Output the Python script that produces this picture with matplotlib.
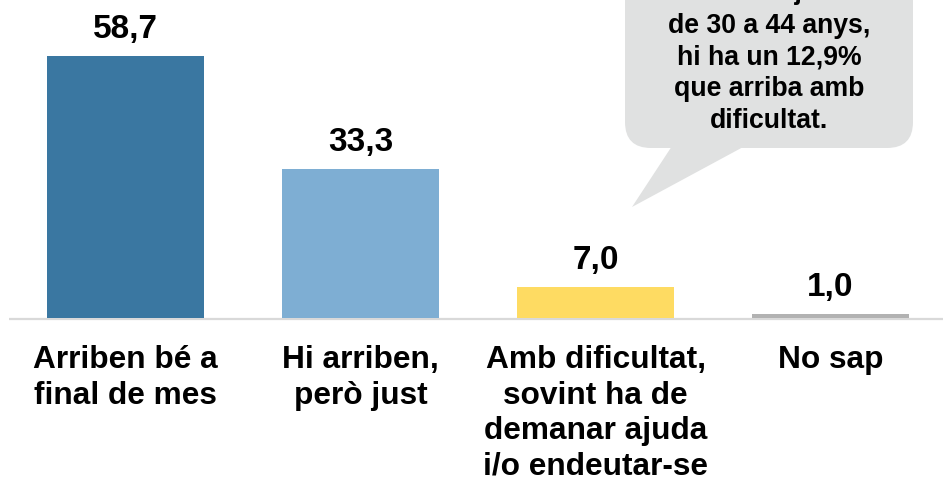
import matplotlib
matplotlib.use("Agg")
import matplotlib.pyplot as plt
from matplotlib.patches import FancyBboxPatch, Polygon

categories = ["Arriben bé a\nfinal de mes", "Hi arriben,\nperò just",
              "Amb dificultat,\nsovint ha de\ndemanar ajuda\ni/o endeutar-se", "No sap"]
values = [58.7, 33.3, 7.0, 1.0]
value_labels = ["58,7", "33,3", "7,0", "1,0"]
colors = ["#3a77a1", "#7eaed3", "#fedb62", "#b2b2b2"]
callout_lines = ["Entre els joves", "de 30 a 44 anys,", "hi ha un 12,9%", "que arriba amb", "dificultat."]

plt.rcParams['font.family'] = ['Liberation Sans', 'DejaVu Sans']

W, H = 943, 479
PX = 72 / 100  # points per pixel
fig = plt.figure(figsize=(W / 100, H / 100), dpi=100)
ax = fig.add_axes([0, 0, 1, 1])
ax.set_xlim(-125.5 / 235, (W - 125.5) / 235)
scale = 4.46
base = H - 318
ax.set_ylim(-base / scale, (H - base) / scale)
ax.axis("off")

xs = list(range(len(values)))
ax.bar(xs, values, width=157 / 235, color=colors, zorder=2)
ax.plot([(9 - 125.5) / 235, (W - 125.5) / 235], [-0.3, -0.3], color="#d9d9d9", lw=1.6, zorder=1,
        solid_capstyle="butt")

for x, v, lab in zip(xs, values, value_labels):
    ax.annotate(lab, xy=(x, v), xytext=(0, 18 * PX), textcoords="offset points",
                ha="center", va="baseline", fontsize=24, fontweight="bold", color="black")

for x, cat in zip(xs, categories):
    for j, line in enumerate(cat.split("\n")):
        ax.annotate(line, xy=(x, 0), xytext=(0, -(50 + j * 35.6) * PX), textcoords="offset points",
                    ha="center", va="baseline", fontsize=22.8, fontweight="bold", color="black",
                    annotation_clip=False)

# Callout bubble in pixel coordinates
ov = fig.add_axes([0, 0, 1, 1], zorder=3)
ov.set_xlim(0, W)
ov.set_ylim(H, 0)
ov.axis("off")
bubble_color = "#e0e1e1"
ov.add_patch(FancyBboxPatch((625, -60), 288, 208, boxstyle="round,pad=0,rounding_size=26",
                            fc=bubble_color, ec="none"))
ov.add_patch(Polygon([(672, 146), (745, 146), (632, 207)], closed=True, fc=bubble_color, ec="none"))
baselines = [-1.5, 33, 64.7, 96.4, 128]
for yb, line in zip(baselines, callout_lines):
    ov.text(769, yb, line, ha="center", va="baseline", fontsize=19.2, fontweight="bold", color="black")

fig.savefig("out.png", dpi=100)
